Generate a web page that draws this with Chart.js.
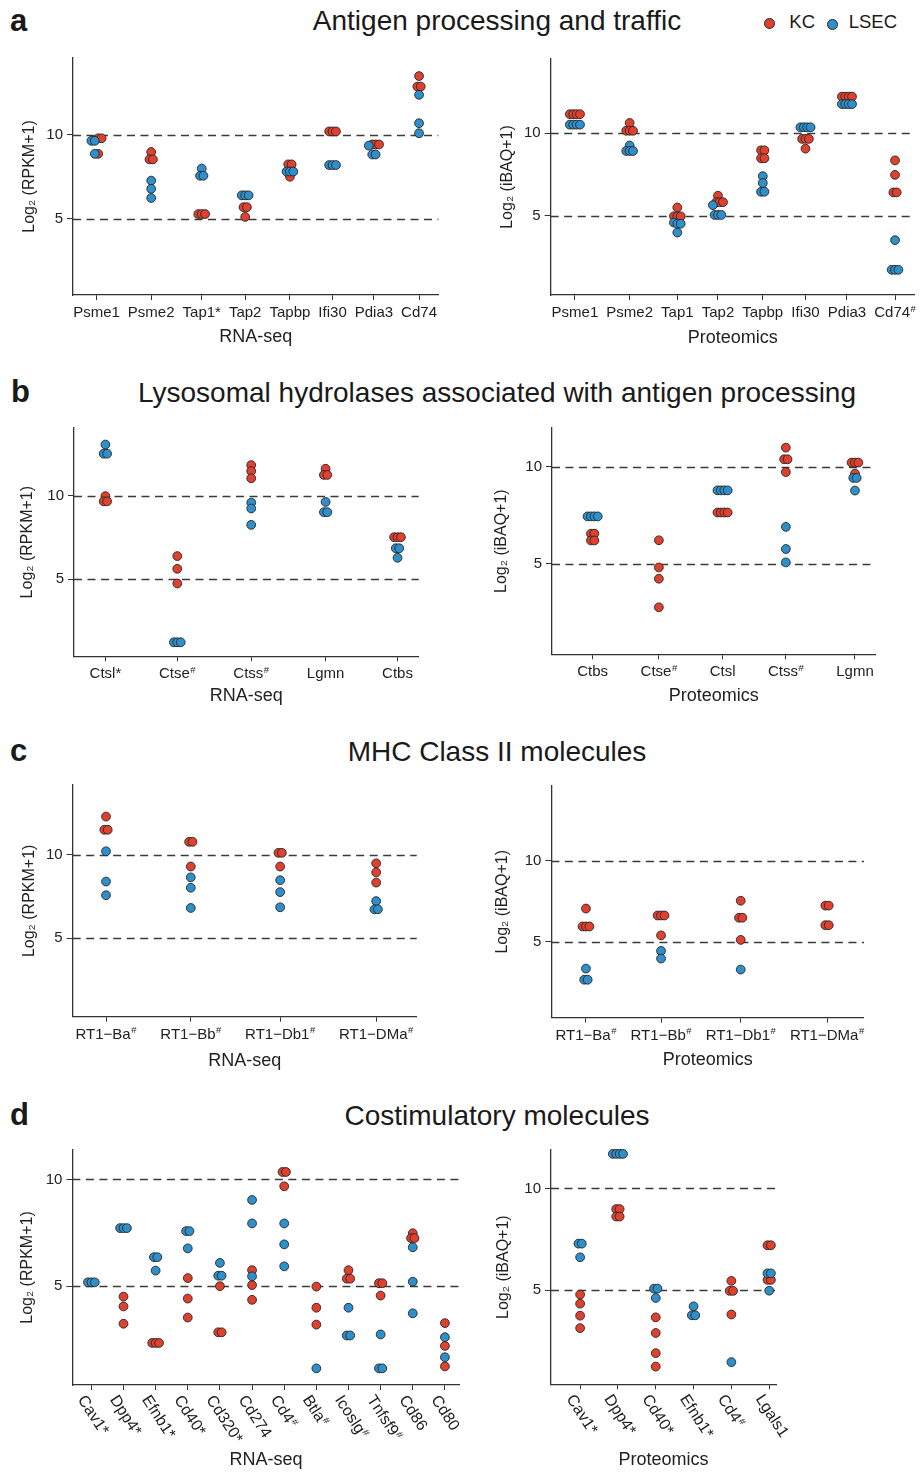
<!DOCTYPE html>
<html>
<head>
<meta charset="utf-8">
<script src="https://cdn.jsdelivr.net/npm/chart.js@4.4.1/dist/chart.umd.min.js"></script>
<style>
html,body{margin:0;padding:0;background:#fff;}
body{width:921px;height:1473px;position:relative;overflow:hidden;font-family:"Liberation Sans",Arial,sans-serif;color:#1a1a1a;}
.lbl{position:absolute;font-weight:bold;font-size:31px;line-height:31px;}
.ttl{position:absolute;left:0;width:994px;text-align:center;font-size:28px;line-height:28px;white-space:nowrap;}
canvas{position:absolute;}
.leg{position:absolute;top:12.6px;font-size:18.5px;line-height:18.5px;white-space:nowrap;}
.dot{position:absolute;width:11px;height:11px;border-radius:50%;border:0.9px solid #262626;box-sizing:border-box;}
</style>
</head>
<body>
<div class="lbl" style="left:10px;top:5px;">a</div>
<div class="ttl" style="top:7px;">Antigen processing and traffic</div>
<div class="lbl" style="left:11px;top:375.5px;">b</div>
<div class="ttl" style="top:378.6px;">Lysosomal hydrolases associated with antigen processing</div>
<div class="lbl" style="left:10px;top:735px;">c</div>
<div class="ttl" style="top:737.6px;">MHC Class II molecules</div>
<div class="lbl" style="left:10px;top:1099px;">d</div>
<div class="ttl" style="top:1101.6px;">Costimulatory molecules</div>
<div id="legend"></div>

<script>
// ---------- data ----------
const seriesNames = ['KC', 'LSEC'];
const yTicks = [5, 10];
const refLines = [5, 10];

// a: Antigen processing and traffic
const aRnaGenes = ['Psme1', 'Psme2', 'Tap1*', 'Tap2', 'Tapbp', 'Ifi30', 'Pdia3', 'Cd74'];
const aRnaKC = [[9.8, 9.8, 8.87], [8.98, 8.54, 8.54], [5.27, 5.27, 5.27], [5.68, 5.68, 5.1], [8.24, 8.24, 7.5], [10.21, 10.21, 10.21], [9.43, 9.43, 9.43], [13.52, 12.89, 12.89]];
const aRnaLSEC = [[9.65, 9.65, 8.87], [7.27, 6.78, 6.23], [7.99, 7.56, 7.56], [6.39, 6.39, 6.39], [7.81, 7.81, 7.81], [8.2, 8.2, 8.2], [9.36, 8.83, 8.83], [12.4, 10.7, 10.1]];

const aProGenes = ['Psme1', 'Psme2', 'Tap1', 'Tap2', 'Tapbp', 'Ifi30', 'Pdia3', 'Cd74#'];
const aProKC = [[11.14, 11.14, 11.14, 11.14], [10.61, 10.14, 10.14, 10.14], [5.51, 4.98, 4.98, 4.98], [6.22, 5.83, 5.83, 5.83], [8.96, 8.96, 8.48, 8.48], [9.65, 9.65, 9.65, 9.06], [12.2, 12.2, 12.2, 12.2], [8.35, 7.48, 6.42, 6.42]];
const aProLSEC = [[10.51, 10.51, 10.51, 10.51], [9.25, 8.92, 8.92, 8.92], [4.6, 4.53, 4.53, 4.0], [5.65, 5.06, 5.06, 5.06], [7.4, 6.99, 6.46, 6.46], [10.35, 10.35, 10.35, 10.35], [11.75, 11.75, 11.75, 11.75], [3.54, 1.75, 1.75, 1.75]];

// b: Lysosomal hydrolases
const bRnaGenes = ['Ctsl*', 'Ctse#', 'Ctss#', 'Lgmn', 'Ctbs'];
const bRnaKC = [[9.98, 9.67, 9.67], [6.39, 5.63, 4.75], [11.84, 11.48, 11.05], [11.62, 11.25, 11.25], [7.52, 7.52, 7.52]];
const bRnaLSEC = [[13.07, 12.52, 12.52], [1.23, 1.23, 1.23], [9.59, 9.24, 8.26], [9.63, 9.02, 9.02], [6.86, 6.86, 6.29]];

const bProGenes = ['Ctbs', 'Ctse#', 'Ctsl', 'Ctss#', 'Lgmn'];
const bProKC = [[6.56, 6.56, 6.21, 6.21], [6.22, 4.82, 4.24, 2.77], [7.65, 7.65, 7.65, 7.65], [10.99, 10.39, 10.39, 9.73], [10.22, 10.22, 10.22, 9.65]];
const bProLSEC = [[7.45, 7.45, 7.45, 7.45], [], [8.79, 8.79, 8.79, 8.79], [6.91, 5.77, 5.08], [9.43, 9.43, 8.78]];

// c: MHC Class II molecules
const cRnaGenes = ['RT1\u2212Ba#', 'RT1\u2212Bb#', 'RT1\u2212Db1#', 'RT1\u2212DMa#'];
const cRnaKC = [[12.29, 11.5, 11.5], [10.78, 10.78, 9.3], [10.12, 10.12, 9.3], [9.49, 8.95, 8.34]];
const cRnaLSEC = [[10.21, 8.4, 7.58], [8.65, 8.03, 6.82], [8.48, 7.77, 6.86], [7.23, 6.74, 6.74]];

const cProGenes = ['RT1\u2212Ba#', 'RT1\u2212Bb#', 'RT1\u2212Db1#', 'RT1\u2212DMa#'];
const cProKC = [[7.06, 5.95, 5.95, 5.95], [6.63, 6.63, 6.63, 5.4], [7.54, 6.49, 6.49, 5.12], [7.24, 7.24, 6.03, 6.03]];
const cProLSEC = [[3.35, 2.66, 2.66], [4.44, 3.97], [3.29], []];

// d: Costimulatory molecules
const dRnaGenes = ['Cav1*', 'Dpp4*', 'Efnb1*', 'Cd40*', 'Cd320*', 'Cd274', 'Cd4#', 'Btla#', 'Icoslg#', 'Tnfsf9#', 'Cd86', 'Cd80'];
const dRnaKC = [[], [4.51, 4.05, 3.24], [2.34, 2.34, 2.34], [5.38, 4.42, 3.53], [5.0, 2.84, 2.84], [5.75, 5.05, 4.36], [10.35, 10.35, 9.68], [4.98, 3.99, 3.2], [5.75, 5.35, 5.35], [5.14, 5.14, 4.56], [7.48, 7.25, 7.25], [3.27, 2.2, 1.24]];
const dRnaLSEC = [[5.18, 5.18, 5.18], [7.72, 7.72, 7.72], [6.36, 6.36, 5.73], [7.58, 7.58, 6.77], [6.09, 5.49, 5.49], [9.04, 7.94, 5.46], [7.94, 6.96, 5.93], [1.15], [3.99, 2.69, 2.69], [2.74, 1.15, 1.15], [6.82, 5.21, 3.73], [2.61, 1.67]];

const dProGenes = ['Cav1*', 'Dpp4*', 'Cd40*', 'Efnb1*', 'Cd4#', 'Lgals1'];
const dProKC = [[4.79, 4.34, 3.75, 3.14], [8.99, 8.99, 8.62, 8.62], [3.67, 2.9, 1.91, 1.25], [], [5.46, 4.97, 4.97, 3.81], [7.21, 7.21, 5.51, 5.51]];
const dProLSEC = [[7.29, 7.29, 6.62], [11.7, 11.7, 11.7, 11.7], [5.08, 5.08, 4.62], [4.21, 3.77, 3.77], [1.47], [5.83, 5.83, 4.98]];

// ---------- style ----------
const RED = '#E0412F';
const BLUE = '#2F8FCA';
const FONT = '"Liberation Sans", Arial, sans-serif';
const INK = '#222222';
const TICK_PX = 15, ROT_PX = 16, SUP_PX = 9.5;
Chart.defaults.font.family = FONT;
Chart.defaults.color = INK;

// legend (HTML)
(function () {
  const leg = document.getElementById('legend');
  const cols = [RED, BLUE];
  const dotX = [764.3, 826.7];
  const txtX = [789.3, 848.7];
  seriesNames.forEach((n, i) => {
    const d = document.createElement('div');
    d.className = 'dot';
    d.style.left = dotX[i] + 'px';
    d.style.top = (18.3 + i * 0.5) + 'px';
    d.style.background = cols[i];
    leg.appendChild(d);
    const t = document.createElement('div');
    t.className = 'leg';
    t.style.left = txtX[i] + 'px';
    t.textContent = n;
    leg.appendChild(t);
  });
})();

const measureCtx = document.createElement('canvas').getContext('2d');
function labelWidth(lab, px) {
  const sup = lab.endsWith('#');
  const base = sup ? lab.slice(0, -1) : lab;
  measureCtx.font = px + 'px ' + FONT;
  let w = measureCtx.measureText(base).width;
  if (sup) { measureCtx.font = SUP_PX + 'px ' + FONT; w += measureCtx.measureText('#').width + 0.5; }
  return w;
}

// category centres: equal white gaps between neighbouring labels (layout only)
function categoryPositions(spec) {
  const n = spec.genes.length;
  if (spec.rot || n < 2) return spec.genes.map((g, i) => i);
  const unitPx = (spec.x1 - spec.x0) / (spec.xMax - spec.xMin);
  const spanPx = (n - 1) * unitPx;
  const w = spec.genes.map(g => labelWidth(g, TICK_PX));
  let total = 0;
  for (let i = 1; i < n; i++) total += (w[i - 1] + w[i]) / 2;
  const gap = (spanPx - total) / (n - 1);
  const pos = [0];
  for (let i = 1; i < n; i++) pos.push(pos[i - 1] + (w[i - 1] + w[i]) / 2 + gap);
  return pos.map(p => p / unitPx);
}

function refLinePlugin() {
  return {
    id: 'refLines',
    beforeDatasetsDraw(chart) {
      const { ctx, chartArea: { left, right }, scales: { y } } = chart;
      ctx.save();
      ctx.strokeStyle = '#3a3a3a';
      ctx.lineWidth = 1.3;
      ctx.setLineDash([8, 5.5]);
      refLines.forEach(v => {
        const py = Math.round(y.getPixelForValue(v)) + 0.5;
        ctx.beginPath(); ctx.moveTo(left, py); ctx.lineTo(right, py); ctx.stroke();
      });
      ctx.restore();
    }
  };
}

function xLabelPlugin(labels, pos, rot) {
  return {
    id: 'xLabels',
    afterDraw(chart) {
      const { ctx, scales: { x } } = chart;
      const axisY = x.top;
      const size = rot ? ROT_PX : TICK_PX;
      const big = size + 'px ' + FONT, small = SUP_PX + 'px ' + FONT;
      ctx.save();
      ctx.fillStyle = INK;
      ctx.textAlign = 'left';
      ctx.textBaseline = 'alphabetic';
      labels.forEach((lab, i) => {
        const px = x.getPixelForValue(pos[i]);
        const sup = lab.endsWith('#');
        const base = sup ? lab.slice(0, -1) : lab;
        ctx.font = big;
        const wb = ctx.measureText(base).width;
        ctx.font = small;
        const ws = sup ? ctx.measureText('#').width + 0.5 : 0;
        ctx.save();
        let x0, y0;
        if (rot) {
          ctx.translate(px - 4, axisY + 8);
          ctx.rotate(rot * Math.PI / 180);
          x0 = 0; y0 = 12;
        } else {
          ctx.translate(px, axisY + 22);
          x0 = -(wb + ws) / 2; y0 = 0;
        }
        ctx.font = big;
        ctx.fillText(base, x0, y0);
        if (sup) { ctx.font = small; ctx.fillText('#', x0 + wb + 0.5, y0 - 5.5); }
        ctx.restore();
      });
      ctx.restore();
    }
  };
}

// beeswarm-like stacking: near-equal values in a category are spread sideways
function placePoints(chart, pos, kc, lsec) {
  const xs = chart.scales.x, ys = chart.scales.y;
  const pxX = Math.abs(xs.getPixelForValue(1) - xs.getPixelForValue(0));
  const pxY = Math.abs(ys.getPixelForValue(1) - ys.getPixelForValue(0));
  const TOL = 4, STEP = 3.4;
  const kcPts = [], lsPts = [];
  pos.forEach((cx, i) => {
    const pts = [];
    (lsec[i] || []).forEach(v => pts.push({ s: 'L', v }));
    (kc[i] || []).forEach(v => pts.push({ s: 'K', v }));
    pts.sort((a, b) => b.v - a.v);
    const bins = [];
    pts.forEach(p => {
      const b = bins[bins.length - 1];
      if (b && (b.top - p.v) * pxY <= TOL) b.items.push(p);
      else bins.push({ top: p.v, items: [p] });
    });
    bins.forEach(b => {
      const items = b.items.filter(p => p.s === 'L').concat(b.items.filter(p => p.s === 'K'));
      const n = items.length;
      items.forEach((p, k) => {
        const off = (k - (n - 1) / 2) * STEP / pxX;
        (p.s === 'K' ? kcPts : lsPts).push({ x: cx + off, y: p.v });
      });
    });
  });
  chart.data.datasets[0].data = lsPts;
  chart.data.datasets[1].data = kcPts;
  chart.update('none');
}

function makeChart(spec) {
  const padTop = 8;
  const padRight = Math.min(12, 920 - spec.x1);
  const left = spec.x0 - spec.yW;
  const top = spec.y0 - padTop;
  const W = Math.round(spec.x1 - left + padRight);
  const H = Math.round(spec.y1 - top + spec.xH);
  const pos = categoryPositions(spec);
  const cv = document.createElement('canvas');
  cv.width = W; cv.height = H;
  cv.style.left = left + 'px';
  cv.style.top = top + 'px';
  cv.style.width = W + 'px';
  cv.style.height = H + 'px';
  document.body.appendChild(cv);
  const ptStyle = { pointRadius: 4.4, pointHoverRadius: 4.4, borderWidth: 0.9, borderColor: '#262626', clip: false };
  const chart = new Chart(cv.getContext('2d'), {
    type: 'scatter',
    data: {
      datasets: [
        Object.assign({ label: seriesNames[1], data: [], backgroundColor: BLUE, pointBackgroundColor: BLUE }, ptStyle),
        Object.assign({ label: seriesNames[0], data: [], backgroundColor: RED, pointBackgroundColor: RED }, ptStyle)
      ]
    },
    options: {
      responsive: false,
      animation: false,
      events: [],
      devicePixelRatio: 1,
      layout: { padding: { top: padTop, right: W - (spec.x1 - left), left: 0, bottom: H - (spec.y1 - top) - spec.xH } },
      plugins: { legend: { display: false }, tooltip: { enabled: false } },
      scales: {
        x: {
          type: 'linear', min: spec.xMin, max: spec.xMax, bounds: 'data',
          afterBuildTicks: s => { s.ticks = pos.map(p => ({ value: p })); },
          ticks: { display: false },
          grid: { display: true, drawOnChartArea: false, drawTicks: true, tickLength: 5, color: '#333', lineWidth: 1 },
          border: { display: true, color: '#333', width: 1.3 },
          title: { display: true, text: spec.xTitle, font: { size: 18, lineHeight: 1 }, padding: 0, color: INK },
          afterFit: s => { s.height = spec.xH; }
        },
        y: {
          type: 'linear', min: spec.yMin, max: spec.yMax, bounds: 'data',
          afterBuildTicks: s => { s.ticks = yTicks.map(v => ({ value: v })); },
          ticks: { font: { size: 15 }, color: INK, padding: 4, callback: v => String(v) },
          grid: { display: true, drawOnChartArea: false, drawTicks: true, tickLength: 6, color: '#333', lineWidth: 1 },
          border: { display: true, color: '#333', width: 1.3 },
          title: { display: true, text: spec.yTitle, font: { size: 16, lineHeight: 1 }, padding: 0, color: INK },
          afterFit: s => { s.width = spec.yW; }
        }
      }
    },
    plugins: [refLinePlugin(), xLabelPlugin(spec.genes, pos, spec.rot || 0)]
  });
  placePoints(chart, pos, spec.kc, spec.lsec);
  return chart;
}

const RNA_Y = 'Log\u2082 (RPKM+1)';
const PRO_Y = 'Log\u2082 (iBAQ+1)';

makeChart({ genes: aRnaGenes, kc: aRnaKC, lsec: aRnaLSEC, x0: 73.3, x1: 438.7, y0: 53.3, y1: 295.3, yMin: 0.43, yMax: 14.6, xMin: -0.51, xMax: 7.42, yW: 51, xH: 51.4, yTitle: RNA_Y, xTitle: 'RNA-seq' });
makeChart({ genes: aProGenes, kc: aProKC, lsec: aProLSEC, x0: 551, x1: 917.7, y0: 54, y1: 295, yMin: 0.23, yMax: 14.47, xMin: -0.53, xMax: 7.43, yW: 50.7, xH: 51.7, yTitle: PRO_Y, xTitle: 'Proteomics' });
makeChart({ genes: bRnaGenes, kc: bRnaKC, lsec: bRnaLSEC, x0: 74.3, x1: 419, y0: 422.7, y1: 656, yMin: 0.39, yMax: 14.06, xMin: -0.43, xMax: 4.29, yW: 54, xH: 49, yTitle: RNA_Y, xTitle: 'RNA-seq' });
makeChart({ genes: bProGenes, kc: bProKC, lsec: bProLSEC, x0: 551.7, x1: 875, y0: 422.7, y1: 654, yMin: 0.35, yMax: 12.0, xMin: -0.62, xMax: 4.31, yW: 58, xH: 51, yTitle: PRO_Y, xTitle: 'Proteomics' });
makeChart({ genes: cRnaGenes, kc: cRnaKC, lsec: cRnaLSEC, x0: 72.7, x1: 416.7, y0: 780, y1: 1016.7, yMin: 0.31, yMax: 14.18, xMin: -0.37, xMax: 3.45, yW: 50.7, xH: 53.3, yTitle: RNA_Y, xTitle: 'RNA-seq' });
makeChart({ genes: cProGenes, kc: cProKC, lsec: cProLSEC, x0: 551.7, x1: 864.3, y0: 780.7, y1: 1017.3, yMin: 0.32, yMax: 14.63, xMin: -0.43, xMax: 3.46, yW: 56.4, xH: 51.7, yTitle: PRO_Y, xTitle: 'Proteomics' });
makeChart({ genes: dRnaGenes, kc: dRnaKC, lsec: dRnaLSEC, x0: 72.7, x1: 460, y0: 1145, y1: 1385, yMin: 0.37, yMax: 11.38, xMin: -0.59, xMax: 11.46, yW: 52.4, xH: 84, yTitle: RNA_Y, xTitle: 'RNA-seq', rot: 57 });
makeChart({ genes: dProGenes, kc: dProKC, lsec: dProLSEC, x0: 551, x1: 776, y0: 1145, y1: 1384.3, yMin: 0.38, yMax: 11.89, xMin: -0.77, xMax: 5.18, yW: 55, xH: 85, yTitle: PRO_Y, xTitle: 'Proteomics', rot: 57 });
</script>
</body>
</html>
